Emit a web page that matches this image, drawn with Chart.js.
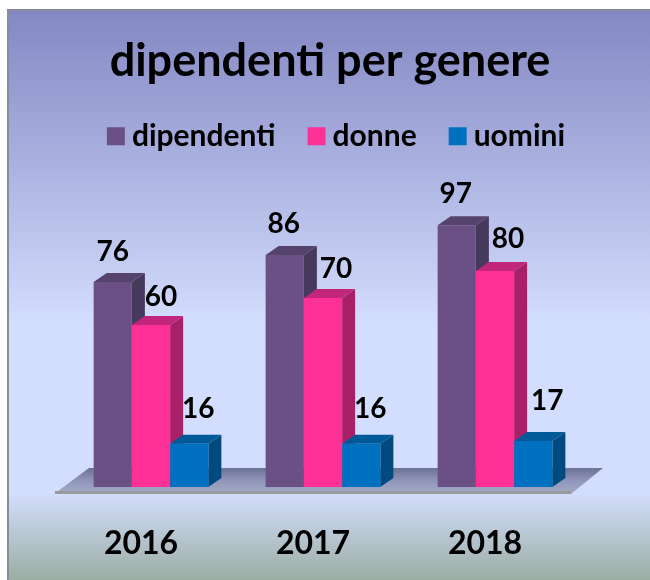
<!DOCTYPE html>
<html>
<head>
<meta charset="utf-8">
<title>dipendenti per genere</title>
<script src="https://cdn.jsdelivr.net/npm/chart.js@4"></script>
<style>
  html, body { margin: 0; padding: 0; background: #fff; }
  canvas { display: block; }
</style>
</head>
<body>
<canvas id="dipendentiChart" width="650" height="580"></canvas>
<script>
const years = ['2016', '2017', '2018'];
const dipendenti = [76, 86, 97];
const donne = [60, 70, 80];
const uomini = [16, 16, 17];

const seriesColors = ['#6b5085', '#fc3095', '#0070c0'];
const sideColors = ['#463a5c', '#a82168', '#004a80'];
const topColors = ['#55436c', '#c2267b', '#005a98'];
// hand placed labels in the original, [dx, dy] from the top middle of each bar
const labelNudge = [
  [[0, -30], [-1, -31], [-1, -31]],
  [[10, -28], [13, -29], [13, -32]],
  [[9, -35], [9, -35], [14, -40]]
];
const fontName = 'Lato, "Open Sans", sans-serif';
const depthX = 13;
const depthY = 9;

const poly = (ctx, points, fill) => {
  ctx.beginPath();
  points.forEach((p, i) => i ? ctx.lineTo(p[0], p[1]) : ctx.moveTo(p[0], p[1]));
  ctx.closePath();
  ctx.fillStyle = fill;
  ctx.fill();
};

const panel3d = {
  id: 'panel3d',
  afterLayout(chart) {
    // legend sits a bit right of the title in the original
    chart.legend.left += 10;
    chart.legend.right += 10;
  },
  beforeDraw(chart) {
    const { ctx, width, height } = chart;
    const grad = ctx.createLinearGradient(0, 9, 0, height);
    grad.addColorStop(0, '#8387c3');
    grad.addColorStop(0.55, '#d3ddfd');
    grad.addColorStop(0.85, '#d3ddfd');
    grad.addColorStop(1, '#9bada2');
    ctx.save();
    ctx.fillStyle = '#ffffff';
    ctx.fillRect(0, 0, width, height);
    ctx.fillStyle = grad;
    ctx.fillRect(7, 9, width - 7, height - 9);
    ctx.fillStyle = '#8b8b9b';
    ctx.fillRect(7, 9, width - 7, 2);
    ctx.fillRect(7, 9, 2, height - 9);
    ctx.restore();
  },
  beforeDatasetsDraw(chart) {
    const { ctx, chartArea } = chart;
    const base = chart.scales.y.getPixelForValue(0);
    ctx.save();
    // floor of the 3d plot
    const floor = ctx.createLinearGradient(0, base - 18, 0, base + 7);
    floor.addColorStop(0, '#6f7499');
    floor.addColorStop(0.5, '#9298bb');
    floor.addColorStop(1, '#a4abc6');
    poly(ctx, [
      [chartArea.left - 11, base + 7],
      [chartArea.right - 10, base + 7],
      [chartArea.right + 22, base - 19],
      [chartArea.left + 24, base - 19]
    ], floor);
    ctx.fillStyle = '#989a9e';
    ctx.fillRect(chartArea.left - 10, base + 4, chartArea.right - chartArea.left, 3);

    // side and top faces, the library draws the front faces over these
    chart.data.datasets.forEach((ds, i) => {
      chart.getDatasetMeta(i).data.forEach(bar => {
        const p = bar.getProps(['x', 'y', 'base', 'width'], true);
        const l = p.x - p.width / 2;
        const r = p.x + p.width / 2;
        poly(ctx, [[r, p.y], [r + depthX, p.y - depthY], [r + depthX, p.base - depthY], [r, p.base]], sideColors[i]);
        poly(ctx, [[l, p.y], [l + depthX, p.y - depthY], [r + depthX, p.y - depthY], [r, p.y]], topColors[i]);
      });
    });
    ctx.restore();
  },
  afterDatasetsDraw(chart) {
    const { ctx } = chart;
    ctx.save();
    ctx.font = 'bold 28px ' + fontName;
    ctx.fillStyle = '#000';
    ctx.textAlign = 'center';
    ctx.textBaseline = 'middle';
    chart.data.datasets.forEach((ds, i) => {
      chart.getDatasetMeta(i).data.forEach((bar, j) => {
        const p = bar.getProps(['x', 'y'], true);
        ctx.fillText(ds.data[j], p.x + labelNudge[i][j][0], p.y + labelNudge[i][j][1]);
      });
    });
    ctx.restore();
  }
};

new Chart(document.getElementById('dipendentiChart'), {
  type: 'bar',
  data: {
    labels: years,
    datasets: [
      { label: 'dipendenti', data: dipendenti, backgroundColor: seriesColors[0] },
      { label: 'donne', data: donne, backgroundColor: seriesColors[1] },
      { label: 'uomini', data: uomini, backgroundColor: seriesColors[2] }
    ]
  },
  plugins: [panel3d],
  options: {
    responsive: false,
    animation: false,
    layout: { padding: { left: 10, right: 0, top: 0, bottom: 0 } },
    datasets: { bar: { barPercentage: 1, categoryPercentage: 0.667 } },
    plugins: {
      tooltip: { enabled: false },
      title: {
        display: true,
        text: 'dipendenti per genere',
        color: '#000',
        font: { family: fontName, size: 45, weight: 'bold', lineHeight: 0.9 },
        padding: { top: 40.75, bottom: 0 }
      },
      legend: {
        display: true,
        position: 'top',
        onClick: null,
        labels: {
          color: '#000',
          font: { family: fontName, size: 30, weight: 'bold' },
          padding: 40,
          boxWidth: 2,
          boxHeight: 2,
          // thick same colour stroke, gives an 18px swatch closer to its text
          generateLabels: chart => chart.data.datasets.map((ds, i) => ({
            text: ds.label,
            fillStyle: seriesColors[i],
            strokeStyle: seriesColors[i],
            lineWidth: 16,
            datasetIndex: i
          }))
        }
      }
    },
    scales: {
      x: {
        afterFit: scale => { scale.height = 93; },
        grid: { display: false },
        border: { display: false },
        ticks: {
          color: '#000',
          font: { family: fontName, size: 32, weight: 'bold' },
          padding: 29,
          labelOffset: -10,
          maxRotation: 0
        }
      },
      y: {
        min: 0,
        max: 120.7,
        afterFit: scale => { scale.width = 55; },
        grid: { display: false },
        border: { display: false },
        ticks: { display: false }
      },
      // empty, only holds the room right of the plot
      spacer: {
        type: 'linear',
        position: 'right',
        afterFit: scale => { scale.width = 69; },
        grid: { display: false },
        border: { display: false },
        ticks: { display: false }
      }
    }
  }
});
</script>
</body>
</html>
